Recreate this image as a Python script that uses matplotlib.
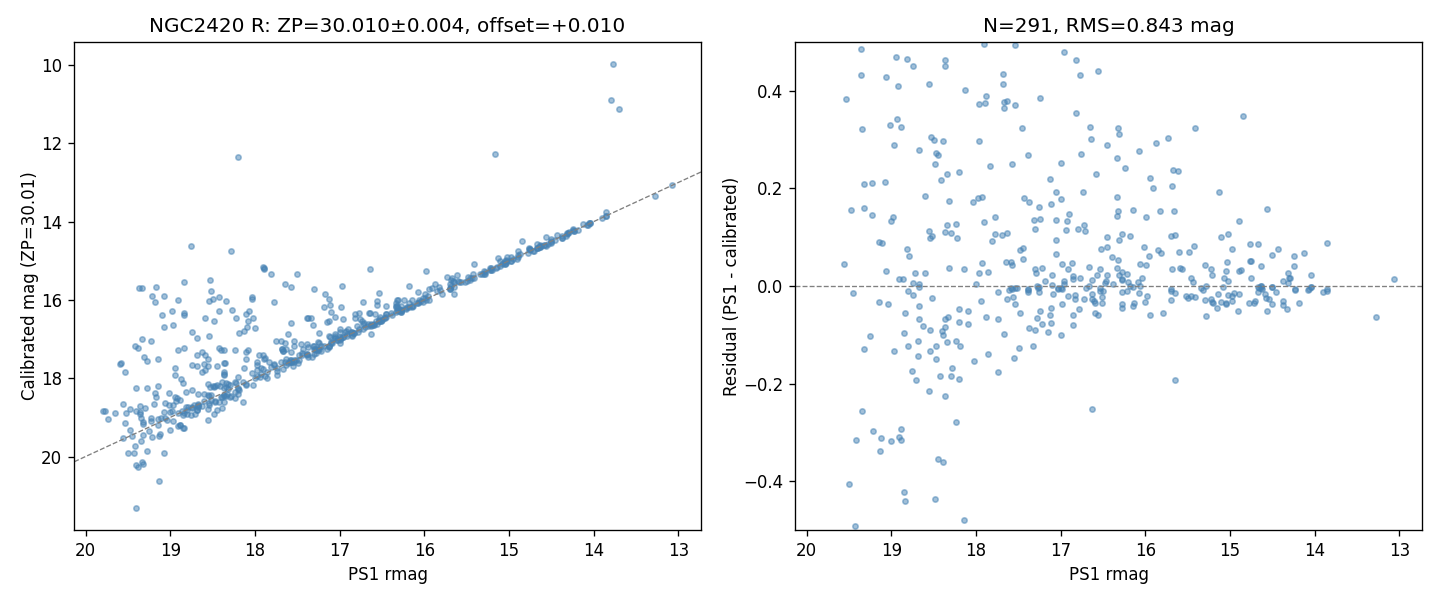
import numpy as np
import matplotlib
matplotlib.use("Agg")
import matplotlib.pyplot as plt

# Titles / labels
TITLE_LEFT = "NGC2420 R: ZP=30.010\u00b10.004, offset=+0.010"
TITLE_RIGHT = "N=291, RMS=0.843 mag"
ZP_LABEL = "Calibrated mag (ZP=30.01)"

# Stars close to the 1:1 line (PS1 rmag, residual)
faint_rmag = [
    19.355, 18.94, 18.82, 18.74, 18.36, 17.90, 19.355, 19.06, 18.92, 18.56,
    18.13, 17.68, 17.68, 19.53, 17.88, 17.97, 17.89, 17.67, 17.63, 17.67,
    18.93, 19.01, 18.89, 19.34, 18.53, 18.50, 18.39, 17.97, 18.97, 18.67,
    18.47, 18.45, 18.48, 17.83, 18.34, 18.20, 18.41, 19.32, 19.23, 19.07,
    18.60, 18.32, 18.03, 17.98, 17.93, 19.47, 19.32, 19.23, 18.98, 19.00,
    17.77, 17.90, 18.34, 18.23, 18.55, 18.36, 18.29, 18.54, 18.52, 18.22,
    17.77, 17.69, 17.63, 17.81, 19.14, 19.11, 18.82, 18.79, 19.56, 17.93,
    17.64, 19.06, 18.72, 18.60, 18.32, 18.14, 17.97, 17.86, 18.91, 18.86,
    18.74, 18.67, 18.67, 18.00,
    19.45, 18.80, 18.74, 17.74, 17.63, 19.15, 19.04, 18.67, 18.52, 17.94,
    18.84, 18.67, 18.36, 18.33, 18.20, 18.10, 18.20, 18.10, 17.88, 17.74,
    18.63, 18.54, 18.40, 18.37, 18.39, 18.85, 19.25, 17.67, 18.69, 18.34,
    18.24, 18.19, 18.80, 18.47, 19.32, 18.97, 18.54, 17.86, 18.68, 18.47,
    18.02, 18.76, 18.28, 17.74, 18.71, 18.43, 18.29, 18.20, 18.56, 18.37,
    19.34, 18.23, 19.21, 18.89, 19.42, 19.12, 19.00, 18.91, 18.89, 19.13,
    18.45, 18.39, 19.50, 18.85, 18.84, 18.48, 18.14, 19.43,
]
faint_resid = [
    0.486, 0.470, 0.466, 0.451, 0.464, 0.496, 0.433, 0.429, 0.410, 0.413,
    0.402, 0.435, 0.413, 0.384, 0.390, 0.373, 0.375, 0.377, 0.379, 0.365,
    0.343, 0.330, 0.326, 0.322, 0.306, 0.299, 0.297, 0.297, 0.289, 0.279,
    0.273, 0.269, 0.250, 0.246, 0.230, 0.234, 0.217, 0.209, 0.211, 0.213,
    0.184, 0.175, 0.172, 0.180, 0.183, 0.156, 0.160, 0.146, 0.142, 0.134,
    0.142, 0.131, 0.125, 0.127, 0.113, 0.111, 0.109, 0.098, 0.103, 0.098,
    0.106, 0.105, 0.109, 0.092, 0.090, 0.088, 0.076, 0.062, 0.045, 0.047,
    0.049, 0.031, 0.027, 0.027, 0.037, 0.035, 0.027, 0.029, 0.014, 0.014,
    0.006, 0.004, -0.002, 0.004,
    -0.014, -0.010, -0.018, -0.012, -0.027, -0.033, -0.037, -0.041, -0.025, -0.031,
    -0.055, -0.068, -0.068, -0.064, -0.047, -0.051, -0.074, -0.078, -0.064, -0.068,
    -0.082, -0.090, -0.092, -0.084, -0.101, -0.096, -0.103, -0.098, -0.113, -0.115,
    -0.113, -0.123, -0.123, -0.123, -0.129, -0.133, -0.133, -0.139, -0.144, -0.150,
    -0.154, -0.174, -0.168, -0.176, -0.193, -0.185, -0.185, -0.191, -0.215, -0.226,
    -0.256, -0.279, -0.297, -0.293, -0.316, -0.312, -0.318, -0.310, -0.316, -0.338,
    -0.355, -0.361, -0.406, -0.423, -0.441, -0.437, -0.480, -0.492,
]

mid_rmag = [
    17.54, 16.82, 16.77, 16.56, 17.24, 17.54, 16.82, 17.46, 16.65, 16.64,
    16.32, 16.31, 16.45, 15.73, 15.88, 15.41, 16.08, 17.39, 16.76, 16.33,
    17.57, 17.00, 16.24, 16.58, 15.67, 15.61, 17.13, 15.94, 15.91, 15.69,
    17.06, 16.74, 17.43, 17.37, 17.00, 17.11, 17.25, 16.33, 16.32, 16.33,
    16.15, 15.83, 15.66, 15.99, 16.90, 17.32, 17.24, 17.06, 16.92, 17.30,
    16.79, 16.73, 16.71, 16.94, 16.27, 16.45, 16.31, 16.18, 15.70, 15.65,
    17.06, 16.52, 16.45, 16.02, 15.85, 15.81, 15.60, 15.49, 15.42, 17.48,
    17.44, 17.05, 17.45, 17.59, 17.57, 16.39, 16.32, 16.99, 16.87, 16.06,
    15.99, 15.96, 17.30, 17.29, 17.22, 16.91, 16.66, 16.53, 16.34, 16.28,
    16.22, 16.31, 15.68, 15.59, 15.57, 15.30, 15.23, 15.21, 17.10, 16.85,
    16.85, 16.77, 16.57, 16.63, 16.45, 16.46, 16.48, 16.28, 16.27, 16.20,
    16.09, 16.04, 15.46, 15.44, 17.18, 16.96, 16.96, 17.00, 17.03, 17.28,
    17.27, 17.10, 17.38, 17.54, 17.59, 16.66, 16.70, 16.53, 16.38, 16.18,
    16.15, 16.06, 15.34, 15.28, 15.70,
    17.61, 17.58, 17.56, 17.52, 17.54, 17.48, 17.49, 17.55, 17.39, 17.38,
    17.26, 17.25, 17.09, 17.03, 16.98, 16.91, 16.83, 16.83, 16.72, 16.63,
    16.63, 16.61, 16.59, 16.53, 16.50, 16.51, 16.51, 16.59, 16.56, 16.28,
    16.22, 16.28, 16.27, 16.15, 16.13, 16.07, 16.01, 15.98, 15.95, 15.79,
    15.70, 15.70, 15.65, 15.65, 16.63, 15.52, 15.50, 15.46, 15.41, 15.32,
    15.30, 15.28, 15.22, 15.21, 17.28, 17.24, 17.22, 17.30, 17.37, 17.33,
    17.13, 17.12, 17.12, 17.15, 16.99, 17.00, 16.85, 16.85, 16.78,
]
mid_resid = [
    0.494, 0.464, 0.433, 0.441, 0.386, 0.371, 0.355, 0.324, 0.326, 0.302,
    0.324, 0.312, 0.289, 0.304, 0.293, 0.324, 0.277, 0.269, 0.271, 0.263,
    0.250, 0.252, 0.242, 0.230, 0.238, 0.236, 0.219, 0.221, 0.201, 0.204,
    0.193, 0.193, 0.180, 0.172, 0.178, 0.168, 0.162, 0.183, 0.154, 0.144,
    0.156, 0.154, 0.154, 0.142, 0.148, 0.135, 0.137, 0.135, 0.133, 0.117,
    0.117, 0.125, 0.113, 0.115, 0.107, 0.101, 0.094, 0.103, 0.103, 0.105,
    0.094, 0.076, 0.080, 0.080, 0.074, 0.068, 0.070, 0.070, 0.082, 0.074,
    0.078, 0.066, 0.055, 0.049, 0.043, 0.060, 0.053, 0.045, 0.047, 0.045,
    0.043, 0.062, 0.035, 0.027, 0.037, 0.035, 0.039, 0.035, 0.037, 0.029,
    0.025, 0.023, 0.035, 0.037, 0.035, 0.043, 0.035, 0.023, 0.023, 0.021,
    0.014, 0.016, 0.023, 0.012, 0.023, 0.010, 0.006, 0.012, 0.014, 0.008,
    0.008, 0.016, 0.016, 0.008, 0.010, 0.010, 0.004, -0.004, -0.004, 0.000,
    -0.004, 0.002, -0.006, -0.004, -0.004, 0.000, -0.004, -0.004, 0.004, 0.000,
    -0.002, 0.000, -0.004, 0.000, -0.006,
    -0.008, -0.006, -0.023, -0.004, -0.037, -0.055, -0.127, -0.148, -0.012, -0.008,
    -0.002, -0.012, -0.016, -0.006, -0.006, -0.021, -0.018, -0.027, -0.027, -0.016,
    -0.027, -0.031, -0.035, -0.010, -0.010, -0.023, -0.035, -0.055, -0.059, -0.012,
    -0.010, -0.037, -0.045, -0.041, -0.035, -0.014, -0.033, -0.021, -0.059, -0.055,
    -0.010, -0.029, -0.014, -0.193, -0.252, -0.021, -0.025, -0.021, -0.023, -0.008,
    -0.029, -0.062, -0.027, -0.033, -0.066, -0.051, -0.078, -0.090, -0.086, -0.123,
    -0.059, -0.045, -0.076, -0.094, -0.037, -0.101, -0.059, -0.080, -0.047,
]

bright_rmag = [
    14.85, 15.13, 14.56, 14.89, 15.11, 15.02, 14.98, 14.76, 14.67, 14.43,
    14.50, 14.13, 14.24, 14.25, 13.85, 13.07, 15.04, 15.05, 15.07, 15.02,
    14.89, 14.87, 14.76, 14.75, 14.63, 14.75, 14.32, 14.30, 14.29, 14.38,
    14.32, 14.05, 15.08, 14.67, 14.64, 14.63, 14.50, 14.23, 14.07, 14.04,
    13.86,
    15.20, 15.14, 15.11, 15.05, 15.05, 15.15, 15.03, 14.98, 14.95, 14.90,
    14.98, 14.91, 14.78, 14.72, 14.71, 14.67, 14.66, 14.64, 14.62, 14.59,
    14.58, 14.54, 14.50, 14.56, 14.51, 14.46, 14.38, 14.38, 14.33, 14.23,
    14.19, 14.08, 14.04, 13.90, 13.86, 13.28,
]
bright_resid = [
    0.349, 0.193, 0.158, 0.133, 0.101, 0.107, 0.076, 0.086, 0.086, 0.076,
    0.064, 0.068, 0.062, 0.041, 0.088, 0.014, 0.049, 0.031, 0.016, 0.010,
    0.031, 0.033, 0.051, 0.051, 0.041, 0.016, 0.027, 0.016, 0.016, 0.010,
    0.006, 0.023, -0.002, -0.002, 0.000, -0.004, -0.002, -0.006, -0.006, -0.002,
    -0.006,
    -0.035, -0.016, -0.033, -0.037, -0.035, -0.045, -0.018, -0.021, -0.014, -0.016,
    -0.031, -0.051, -0.035, -0.035, -0.031, -0.012, -0.004, 0.000, -0.006, -0.016,
    -0.025, -0.027, -0.037, -0.051, -0.002, -0.012, -0.031, -0.039, -0.047, -0.008,
    -0.035, -0.008, -0.002, -0.012, -0.010, -0.064,
]

# Stars far off the line (|residual| > 0.5) (PS1 rmag, calibrated mag)
out_rmag = [
    19.37, 19.33, 19.17, 18.84, 18.53, 19.21, 19.07, 19.18, 18.91, 18.52,
    18.54, 18.50, 18.43, 18.34, 18.03, 18.03, 19.10, 18.98, 18.84, 18.84,
    18.59, 18.43, 18.27, 18.22, 18.48, 18.10, 18.07, 18.02, 18.08, 18.09,
    18.00, 19.07, 18.97, 18.74, 18.68, 18.54, 18.19, 18.13, 19.33, 19.23,
    19.42, 19.38, 18.91, 18.84, 19.31, 19.28, 19.14, 19.59, 19.58, 19.54,
    18.63, 18.68, 18.59, 18.56, 18.60, 18.56, 18.59, 18.62, 18.74, 18.68,
    18.95, 18.94, 18.87, 18.85, 18.45, 18.37, 18.35, 18.36, 18.36, 18.42,
    18.40, 18.36, 18.23, 18.11, 18.10, 18.08, 17.95, 19.41, 19.13, 19.33,
    19.32, 19.41, 19.38, 19.28, 19.07, 19.80, 19.77, 19.73, 19.65, 19.56,
    19.52, 19.47, 19.41, 19.355, 19.30, 19.40, 19.27, 19.14, 19.18, 19.17,
    19.19, 19.01, 18.56,
    18.20, 18.28, 17.91, 17.89, 17.89, 17.81, 17.50, 16.64, 17.65, 17.57,
    17.30, 16.97, 17.78, 17.17, 17.12, 17.11, 17.18, 16.98, 17.10, 17.06,
    16.96, 16.53, 16.56, 16.73, 17.39, 17.37, 17.34, 17.31, 17.58, 17.61,
    17.75, 17.69, 17.64, 17.15, 17.12,
    13.77, 13.80, 13.70, 15.16, 15.98, 16.18, 18.75,
]
out_cal = [
    15.70, 15.70, 15.67, 15.54, 15.49, 15.90, 15.90, 16.06, 16.01, 15.77,
    16.03, 15.98, 15.93, 16.03, 15.93, 15.98, 16.39, 16.29, 16.34, 16.39,
    16.47, 16.29, 16.26, 16.47, 16.55, 16.36, 16.29, 16.47, 16.55, 16.70,
    16.73, 16.70, 16.63, 16.83, 16.98, 16.91, 16.85, 16.80, 17.01, 17.06,
    17.19, 17.24, 17.27, 17.22, 17.47, 17.57, 17.50, 17.65, 17.62, 17.83,
    17.32, 17.42, 17.42, 17.50, 17.65, 17.70, 17.78, 17.85, 17.67, 17.70,
    17.73, 17.93, 18.03, 18.11, 17.70, 17.60, 17.60, 17.83, 17.91, 17.22,
    17.29, 17.27, 17.29, 17.32, 17.50, 17.27, 17.42, 21.31, 20.62, 20.13,
    20.18, 20.21, 20.28, 19.87, 19.92, 18.83, 18.85, 19.03, 18.90, 18.65,
    18.90, 18.78, 18.83, 18.72, 18.75, 18.24, 18.26, 18.21, 18.39, 18.47,
    18.67, 18.39, 19.08,
    12.35, 14.76, 15.17, 15.19, 15.22, 15.35, 15.35, 15.22, 15.60, 15.68,
    15.73, 15.65, 16.06, 15.86, 15.99, 16.12, 16.19, 16.19, 16.32, 16.43,
    16.48, 15.83, 16.04, 16.06, 16.47, 16.47, 16.45, 16.63, 16.60, 16.86,
    17.04, 17.04, 17.09, 16.57, 16.54,
    9.98, 10.90, 11.13, 12.28, 15.25, 15.65, 14.63,
]

near_rmag = np.array(faint_rmag + mid_rmag + bright_rmag)
near_resid = np.array(faint_resid + mid_resid + bright_resid)

rmag = np.concatenate([near_rmag, np.array(out_rmag)])
cal = np.concatenate([near_rmag - near_resid, np.array(out_cal)])
resid = rmag - cal

fig, (ax1, ax2) = plt.subplots(1, 2, figsize=(12, 5), dpi=120)
fig.subplots_adjust(left=0.0514, right=0.9875, bottom=0.1167, top=0.93, wspace=0.15)

# left: calibrated vs PS1
ax1.scatter(rmag, cal, s=10, alpha=0.5, color="steelblue")
ax1.axline((15, 15), slope=1, color="gray", ls="--", lw=0.8)
ax1.invert_xaxis()
ax1.invert_yaxis()
ax1.set_xlabel("PS1 rmag")
ax1.set_ylabel(ZP_LABEL, labelpad=1.5)
ax1.set_title(TITLE_LEFT)

# right: residuals
ax2.scatter(rmag, resid, s=10, alpha=0.5, color="steelblue")
ax2.axhline(0, color="gray", ls="--", lw=0.8)
ax2.set_ylim(-0.5, 0.5)
ax2.invert_xaxis()
ax2.set_xlabel("PS1 rmag")
ax2.set_ylabel("Residual (PS1 - calibrated)", labelpad=1.5)
ax2.set_title(TITLE_RIGHT)

fig.savefig("out.png")
